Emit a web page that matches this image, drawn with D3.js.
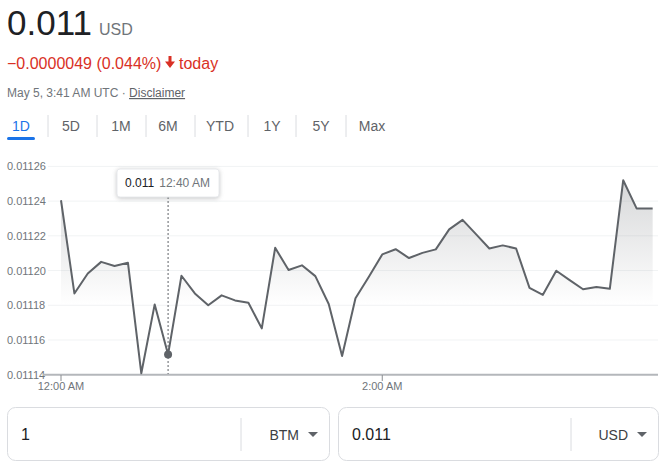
<!DOCTYPE html>
<html>
<head>
<meta charset="utf-8">
<script src="https://cdn.jsdelivr.net/npm/d3@7"></script>
<style>
  html, body { margin: 0; padding: 0; background: #fff; }
  svg { display: block; font-family: "Liberation Sans", Arial, sans-serif; }
</style>
</head>
<body>
<svg id="chart" width="667" height="463"></svg>
<script>
// ---- data ----
const minutes = [0,5,10,15,20,25,30,35,40,45,50,55,60,65,70,75,80,85,90,95,100,105,110,115,120,125,130,135,140,145,150,155,160,165,170,175,180,185,190,195,200,205,210,215,221];
const prices = [0.0112405,0.0111868,0.0111983,0.0112050,0.0112026,0.0112045,0.0111408,0.0111805,0.0111517,0.0111970,
  0.0111868,0.0111800,0.0111857,0.0111828,0.0111814,0.0111667,0.0112131,0.0112003,0.0112030,0.0111968,
  0.0111807,0.0111508,0.0111840,0.0111964,0.0112093,0.0112123,0.0112072,0.0112102,0.0112122,0.0112237,
  0.0112292,0.0112210,0.0112127,0.0112145,0.0112127,0.0111900,0.0111860,0.0111999,0.0111945,0.0111892,
  0.0111905,0.0111895,0.0112520,0.0112358,0.0112358];
const yTicks = [0.01114,0.01116,0.01118,0.01120,0.01122,0.01124,0.01126];
const xTickMinutes = [0, 120];
const xTickLabels = ["12:00 AM", "2:00 AM"];
const tabs = ["1D","5D","1M","6M","YTD","1Y","5Y","Max"];
const hoverIndex = 8;
const hoverLabel = "0.011";
const hoverTime = "12:40 AM";

const svg = d3.select("#chart");
const grey = "#70757a";

// ---- header ----
svg.append("text").attr("x", 7).attr("y", 35).attr("font-size", 35).attr("fill", "#202124").text("0.011");
svg.append("text").attr("x", 99).attr("y", 35).attr("font-size", 16).attr("fill", grey).text("USD");
svg.append("text").attr("x", 7).attr("y", 69).attr("font-size", 16).attr("fill", "#d93025").text("\u22120.0000049 (0.044%)");
svg.append("path").attr("d", "M168.5,56 L171.5,56 L171.5,61.5 L175,61.5 L170,68 L165,61.5 L168.5,61.5 Z").attr("fill", "#d93025");
svg.append("text").attr("x", 179).attr("y", 69).attr("font-size", 16).attr("fill", "#d93025").text("today");
const meta = svg.append("text").attr("x", 7).attr("y", 97).attr("font-size", 12).attr("fill", grey);
meta.append("tspan").text("May 5, 3:41 AM UTC \u00b7 ");
meta.append("tspan").attr("text-decoration", "underline").attr("fill", "#5f6368").text("Disclaimer");

// ---- tabs ----
const tabX = [21, 71, 121, 168, 220, 272, 321, 372];
const sepX = [48, 97, 146, 195, 248, 296, 346];
svg.selectAll(".sep").data(sepX).join("line")
  .attr("x1", d => d).attr("x2", d => d).attr("y1", 115).attr("y2", 137)
  .attr("stroke", "#dadce0").attr("stroke-width", 1);
svg.selectAll(".tab").data(tabs).join("text")
  .attr("x", (d, i) => tabX[i]).attr("y", 131).attr("text-anchor", "middle")
  .attr("font-size", 14).attr("fill", (d, i) => i === 0 ? "#1a73e8" : "#5f6368").text(d => d);
svg.append("rect").attr("x", 7).attr("y", 137).attr("width", 28).attr("height", 3).attr("rx", 1.5).attr("fill", "#1a73e8");

// ---- scales ----
const x = d3.scaleLinear().domain([0, 223]).range([61, 658]);
const y = d3.scaleLinear().domain([0.01114, 0.01126]).range([374.7, 166.4]);

// gridlines
svg.selectAll(".grid").data(yTicks.slice(1)).join("line")
  .attr("x1", 48).attr("x2", 658).attr("y1", d => y(d)).attr("y2", d => y(d))
  .attr("stroke", "#f1f3f4").attr("stroke-width", 1);
svg.selectAll(".ylab").data(yTicks).join("text")
  .attr("x", 7).attr("y", d => y(d) + 4).attr("font-size", 11).attr("fill", grey)
  .text(d => d.toFixed(5));

// area gradient
const defs = svg.append("defs");
const grad = defs.append("linearGradient").attr("id", "fillGrad")
  .attr("gradientUnits", "userSpaceOnUse").attr("x1", 0).attr("x2", 0).attr("y1", 166).attr("y2", 305);
grad.append("stop").attr("offset", "0%").attr("stop-color", "#5f6368").attr("stop-opacity", 0.28);
grad.append("stop").attr("offset", "100%").attr("stop-color", "#5f6368").attr("stop-opacity", 0);

const pts = minutes.map((m, i) => ({m, v: prices[i]}));
const area = d3.area().x(d => x(d.m)).y0(y(0.01114)).y1(d => y(d.v));
svg.append("path").datum(pts).attr("d", area).attr("fill", "url(#fillGrad)");

// axis line
svg.append("line").attr("x1", 43).attr("x2", 658).attr("y1", y(0.01114)).attr("y2", y(0.01114))
  .attr("stroke", "#b4b7bb").attr("stroke-width", 2);
svg.selectAll(".xtick").data(xTickMinutes).join("line")
  .attr("x1", d => x(d)).attr("x2", d => x(d)).attr("y1", 375).attr("y2", 381)
  .attr("stroke", "#8a8d91").attr("stroke-width", 1);
svg.selectAll(".xlab").data(xTickMinutes).join("text")
  .attr("x", d => x(d)).attr("y", 390).attr("text-anchor", "middle")
  .attr("font-size", 11).attr("fill", grey).text((d, i) => xTickLabels[i]);

// line
const line = d3.line().x(d => x(d.m)).y(d => y(d.v));
svg.append("path").datum(pts).attr("d", line).attr("fill", "none")
  .attr("stroke", "#5f6368").attr("stroke-width", 2).attr("stroke-linejoin", "round");

// hover
const hp = pts[hoverIndex];
svg.append("line").attr("x1", x(hp.m)).attr("x2", x(hp.m)).attr("y1", 197).attr("y2", 374)
  .attr("stroke", "#5f6368").attr("stroke-width", 1).attr("stroke-dasharray", "2,2");
svg.append("circle").attr("cx", x(hp.m)).attr("cy", y(hp.v)).attr("r", 4).attr("fill", "#5f6368");
const tip = svg.append("g");
tip.append("rect").attr("x", 117).attr("y", 169).attr("width", 102).attr("height", 28).attr("rx", 3)
  .attr("fill", "#fff").attr("stroke", "#e8eaed").style("filter", "drop-shadow(0 1px 2px rgba(60,64,67,0.3))");
const tt = tip.append("text").attr("x", 125).attr("y", 187).attr("font-size", 12);
tt.append("tspan").attr("fill", "#202124").text(hoverLabel);
tt.append("tspan").attr("fill", grey).attr("dx", 6).text(hoverTime);

// ---- converter ----
const boxes = [
  {x: 7, w: 322, val: "1", cur: "BTM", div: 241},
  {x: 338, w: 320, val: "0.011", cur: "USD", div: 571}
];
boxes.forEach(b => {
  svg.append("rect").attr("x", b.x + 0.5).attr("y", 407.5).attr("width", b.w).attr("height", 53).attr("rx", 8)
    .attr("fill", "#fff").attr("stroke", "#dadce0");
  svg.append("line").attr("x1", b.div).attr("x2", b.div).attr("y1", 418).attr("y2", 451).attr("stroke", "#dadce0");
  svg.append("text").attr("x", b.x + 14).attr("y", 440).attr("font-size", 16).attr("fill", "#202124").text(b.val);
  svg.append("text").attr("x", b.x + b.w - 30).attr("y", 440).attr("text-anchor", "end").attr("font-size", 14).attr("fill", "#3c4043").text(b.cur);
  const ax = b.x + b.w - 16;
  svg.append("path").attr("d", `M${ax-5},432 L${ax+5},432 L${ax},437 Z`).attr("fill", "#5f6368");
});
</script>
</body>
</html>
